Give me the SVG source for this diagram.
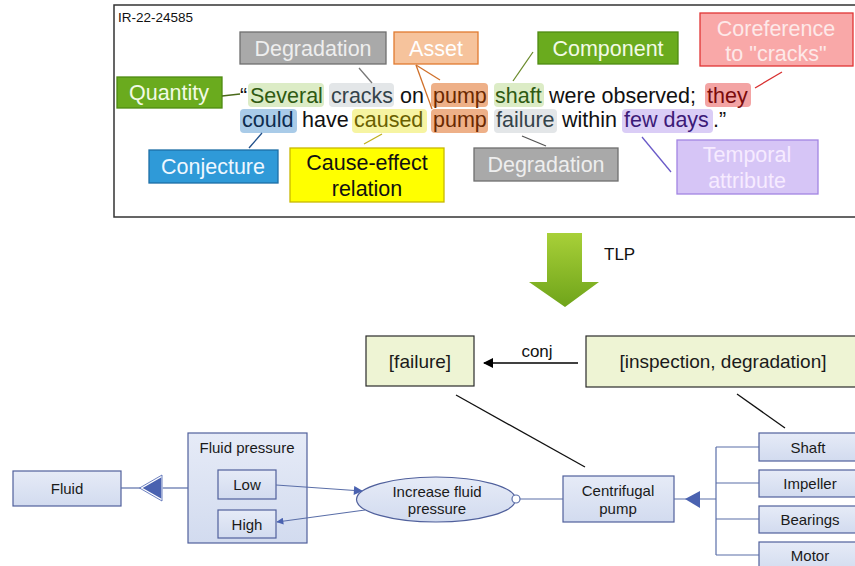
<svg xmlns="http://www.w3.org/2000/svg" width="855" height="566" viewBox="0 0 855 566">
  <style>
    text { font-family: "Liberation Sans", Arial, sans-serif; }
    .word { font-size: 21.5px; }
    .lbl { font-size: 21.5px; text-anchor: middle; }
    .lbl-w { fill: #ffffff; }
    .tag { stroke-width: 1.3; }
    .hl { rx: 4; ry: 4; }
    .cn { fill: none; stroke-width: 1.3; }
    .tlp { font-size: 19px; text-anchor: middle; fill: #1a1a1a; }
    .frame { fill: #eef4d4; stroke: #2a2a2a; stroke-width: 1.2; }
    .uml { fill: url(#umlFill); stroke: #50609c; stroke-width: 1.2; }
    .umlt { font-size: 15px; text-anchor: middle; fill: #1a1a1a; }
    .ul { fill: none; stroke: #5a6ea8; stroke-width: 1.2; }
  </style>
  <defs>
    <linearGradient id="arrowFill" x1="0" y1="0" x2="0" y2="1">
      <stop offset="0" stop-color="#a8d038"/>
      <stop offset="1" stop-color="#6fa41a"/>
    </linearGradient>
    <linearGradient id="umlFill" x1="0" y1="0" x2="0" y2="1">
      <stop offset="0" stop-color="#e6ebf7"/>
      <stop offset="1" stop-color="#d2dbef"/>
    </linearGradient>
    <marker id="blk" viewBox="0 0 10 10" refX="9" refY="5" markerWidth="10" markerHeight="10" markerUnits="userSpaceOnUse" orient="auto">
      <path d="M0,0 L10,5 L0,10 z" fill="#000"/>
    </marker>
    <marker id="blu" viewBox="0 0 10 10" refX="9" refY="5" markerWidth="11" markerHeight="9" markerUnits="userSpaceOnUse" orient="auto">
      <path d="M0,0 L10,5 L0,10 z" fill="#4a62b0"/>
    </marker>
    <marker id="bluS" viewBox="0 0 10 10" refX="9" refY="5" markerWidth="8" markerHeight="7" markerUnits="userSpaceOnUse" orient="auto">
      <path d="M0,0 L10,5 L0,10 z" fill="#4a62b0"/>
    </marker>
  </defs>

  <!-- annotated report frame -->
  <rect x="114" y="5" width="745" height="212" fill="#ffffff" stroke="#333333" stroke-width="1.5"/>
  <text x="118" y="22" font-size="13.5" fill="#111">IR-22-24585</text>

  <!-- sentence, line 1 -->
  <g id="sentence">
    <rect class="hl" x="248" y="83" width="76" height="24" fill="#dcecc6"/>
    <rect class="hl" x="329" y="83" width="65" height="24" fill="#e3e6e8"/>
    <rect class="hl" x="431" y="83" width="57" height="24" fill="#eeb088"/>
    <rect class="hl" x="494" y="83" width="50" height="24" fill="#dcecc6"/>
    <rect class="hl" x="705" y="83" width="46" height="24" fill="#f3a4a4"/>
    <text class="word" x="240" y="103" fill="#111">“</text>
    <text class="word" x="250" y="103" fill="#2f5a12">Several</text>
    <text class="word" x="331" y="103" fill="#34434a">cracks</text>
    <text class="word" x="400" y="103" fill="#111">on</text>
    <text class="word" x="433" y="103" fill="#6a2800">pump</text>
    <text class="word" x="495" y="103" fill="#2f5a12">shaft</text>
    <text class="word" x="549" y="103" fill="#111">were observed;</text>
    <text class="word" x="707" y="103" fill="#7a0a0a">they</text>

    <!-- sentence, line 2 -->
    <rect class="hl" x="240" y="109" width="57" height="24" fill="#a9cbe8"/>
    <rect class="hl" x="352" y="109" width="75" height="24" fill="#f6f4a2"/>
    <rect class="hl" x="431" y="109" width="57" height="24" fill="#eeb088"/>
    <rect class="hl" x="494" y="109" width="63" height="24" fill="#e3e6e8"/>
    <rect class="hl" x="622" y="109" width="91" height="24" fill="#dacdf6"/>
    <text class="word" x="242" y="127" fill="#0d2c4e">could</text>
    <text class="word" x="302" y="127" fill="#111">have</text>
    <text class="word" x="354" y="127" fill="#6a6000">caused</text>
    <text class="word" x="433" y="127" fill="#6a2800">pump</text>
    <text class="word" x="496" y="127" fill="#34434a">failure</text>
    <text class="word" x="562" y="127" fill="#111">within</text>
    <text class="word" x="624" y="127" fill="#3c1a78">few days</text>
    <text class="word" x="713" y="127" fill="#111">.”</text>
  </g>

  <!-- annotation tags -->
  <g id="tag-degradation-1">
    <rect class="tag" x="240" y="32" width="146" height="32" fill="#a9a9a9" stroke="#6f6f6f"/>
    <text class="lbl" x="313" y="56" fill="#eeeeee">Degradation</text>
  </g>
  <g id="tag-asset">
    <rect class="tag" x="394" y="32" width="84" height="32" fill="#f6c39c" stroke="#e07a30"/>
    <text class="lbl lbl-w" x="436" y="56">Asset</text>
  </g>
  <g id="tag-component">
    <rect class="tag" x="538" y="32" width="140" height="32" fill="#6aab1e" stroke="#4e8a12"/>
    <text class="lbl" x="608" y="56" fill="#f2fae6">Component</text>
  </g>
  <g id="tag-coreference">
    <rect class="tag" x="700" y="13" width="153" height="53" fill="#f9a8a8" stroke="#e03434"/>
    <text class="lbl" x="776" y="36" fill="#fde9e9">Coreference</text>
    <text class="lbl" x="776" y="61" fill="#fde9e9">to "cracks"</text>
  </g>
  <g id="tag-quantity">
    <rect class="tag" x="117" y="77" width="105" height="31" fill="#6aab1e" stroke="#4e8a12"/>
    <text class="lbl" x="169" y="100" fill="#f2fae6">Quantity</text>
  </g>
  <g id="tag-conjecture">
    <rect class="tag" x="149" y="150" width="129" height="33" fill="#2f9ad8" stroke="#1d6ea6"/>
    <text class="lbl" x="213" y="174" fill="#eef7ff">Conjecture</text>
  </g>
  <g id="tag-cause-effect">
    <rect class="tag" x="290" y="148" width="154" height="54" fill="#ffff00" stroke="#c8b800"/>
    <text class="lbl" x="367" y="170" fill="#111">Cause-effect</text>
    <text class="lbl" x="367" y="196" fill="#111">relation</text>
  </g>
  <g id="tag-degradation-2">
    <rect class="tag" x="474" y="148" width="144" height="33" fill="#a9a9a9" stroke="#6f6f6f"/>
    <text class="lbl" x="546" y="172" fill="#eeeeee">Degradation</text>
  </g>
  <g id="tag-temporal">
    <rect class="tag" x="677" y="140" width="141" height="54" fill="#d6c5f6" stroke="#a284e2"/>
    <text class="lbl" x="747" y="162" fill="#f6ebff">Temporal</text>
    <text class="lbl" x="747" y="188" fill="#f6ebff">attribute</text>
  </g>

  <!-- TLP step -->
  <g id="tlp-arrow">
    <polygon points="547,233 582,233 582,282 599,282 565,307 529,282 547,282" fill="url(#arrowFill)"/>
    <text x="604" y="260" font-size="17" fill="#111">TLP</text>
  </g>

  <!-- concept frames -->
  <g id="frame-failure">
    <rect class="frame" x="366" y="336" width="108" height="50"/>
    <text class="tlp" x="420" y="368">[failure]</text>
  </g>
  <g id="frame-inspection">
    <rect class="frame" x="586" y="336" width="275" height="51"/>
    <text class="tlp" x="723" y="368" font-size="20">[inspection, degradation]</text>
  </g>
  <text x="537" y="357" font-size="17" text-anchor="middle" fill="#111">conj</text>

  <!-- ontology -->
  <g id="fluid">
    <rect class="uml" x="13" y="471" width="108" height="35"/>
    <text class="umlt" x="67" y="494">Fluid</text>
  </g>
  <g id="fluid-pressure">
    <rect class="uml" x="188" y="433" width="119" height="110"/>
    <text class="umlt" x="247" y="453">Fluid pressure</text>
    <rect class="uml" x="218" y="470" width="58" height="29"/>
    <text class="umlt" x="247" y="490">Low</text>
    <rect class="uml" x="218" y="510" width="58" height="28"/>
    <text class="umlt" x="247" y="530">High</text>
  </g>
  <g id="increase-fluid-pressure">
    <ellipse cx="436" cy="499.5" rx="79.5" ry="22.5" fill="url(#umlFill)" stroke="#50609c" stroke-width="1.2"/>
    <text class="umlt" x="437" y="497">Increase fluid</text>
    <text class="umlt" x="437" y="514">pressure</text>
  </g>
  <g id="centrifugal-pump">
    <rect class="uml" x="563" y="476" width="111" height="46"/>
    <text class="umlt" x="618" y="496">Centrifugal</text>
    <text class="umlt" x="618" y="514">pump</text>
  </g>
  <g id="shaft">
    <rect class="uml" x="759" y="433" width="100" height="28"/>
    <text class="umlt" x="808" y="453">Shaft</text>
  </g>
  <g id="impeller">
    <rect class="uml" x="759" y="470" width="100" height="27"/>
    <text class="umlt" x="810" y="489">Impeller</text>
  </g>
  <g id="bearings">
    <rect class="uml" x="759" y="506" width="100" height="27"/>
    <text class="umlt" x="810" y="525">Bearings</text>
  </g>
  <g id="motor">
    <rect class="uml" x="759" y="542" width="100" height="30"/>
    <text class="umlt" x="810" y="561">Motor</text>
  </g>

  <!-- connectors -->
  <g id="connectors">
    <line class="cn" x1="359" y1="68" x2="372" y2="83" stroke="#777"/>
    <line class="cn" x1="416" y1="65" x2="440" y2="80" stroke="#d0702a"/>
    <line class="cn" x1="416" y1="65" x2="432" y2="109" stroke="#d0702a"/>
    <line class="cn" x1="533" y1="52" x2="513" y2="81" stroke="#6a8a2a"/>
    <line class="cn" x1="782" y1="72" x2="755" y2="88" stroke="#d83030"/>
    <line class="cn" x1="222" y1="96" x2="240" y2="94" stroke="#4a6a1a"/>
    <line class="cn" x1="262" y1="133" x2="249" y2="148" stroke="#1f4f8a"/>
    <line class="cn" x1="382" y1="134" x2="364" y2="144" stroke="#c0b020"/>
    <line class="cn" x1="522" y1="136" x2="546" y2="146" stroke="#555"/>
    <line class="cn" x1="642" y1="137" x2="671" y2="172" stroke="#6a5ac8"/>

    <!-- between concept frames -->
    <line x1="578" y1="363" x2="484" y2="363" stroke="#000" stroke-width="1.3" marker-end="url(#blk)"/>
    <line x1="456" y1="395" x2="585" y2="467" stroke="#111" stroke-width="1.3"/>
    <line x1="737" y1="394" x2="785" y2="428" stroke="#111" stroke-width="1.3"/>

    <!-- ontology links -->
    <line class="ul" x1="121" y1="488" x2="141" y2="488"/>
    <line class="ul" x1="162" y1="488" x2="188" y2="488"/>
    <line class="ul" x1="276" y1="485" x2="362" y2="491" marker-end="url(#blu)"/>
    <line class="ul" x1="365" y1="510" x2="277" y2="522" marker-end="url(#bluS)"/>
    <line class="ul" x1="520" y1="499" x2="563" y2="499"/>
    <line class="ul" x1="674" y1="499" x2="716" y2="499"/>
    <line class="ul" x1="716" y1="447" x2="716" y2="555"/>
    <line class="ul" x1="716" y1="447" x2="759" y2="447"/>
    <line class="ul" x1="716" y1="483" x2="759" y2="483"/>
    <line class="ul" x1="716" y1="519" x2="759" y2="519"/>
    <line class="ul" x1="716" y1="555" x2="759" y2="555"/>
    <polygon points="141,488 162,476 162,500" fill="#4a62b0" stroke="#ffffff" stroke-width="1.5"/>
    <polygon points="139.5,488 162,475 162,501" fill="none" stroke="#4a62b0" stroke-width="0.8"/>
    <polygon points="685,499 700,491 700,508" fill="#4a62b0"/>
    <circle cx="516" cy="499" r="4" fill="#ffffff" stroke="#5a6ea8" stroke-width="1.2"/>
  </g>
</svg>
